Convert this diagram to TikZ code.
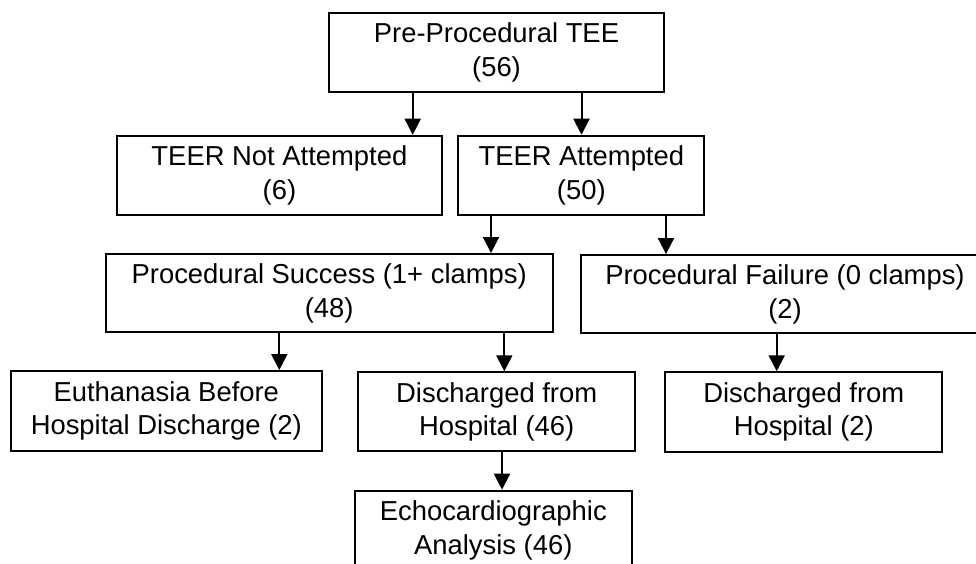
\documentclass[tikz,border=0pt]{standalone}
\usepackage{fontspec}
\setmainfont{Liberation Sans}
\usetikzlibrary{arrows.meta}
\begin{document}
\begin{tikzpicture}[x=1pt, y=-1pt,
    box/.style={draw, line width=2pt, align=center, inner sep=0pt,
        font=\fontsize{27.4pt}{33.7pt}\selectfont},
    arr/.style={line width=2pt, -{Triangle[width=16pt, length=16pt]}}]
    \useasboundingbox (0,0) rectangle (976,564);
    \clip (0,0) rectangle (976,564);
    \node[box, minimum width=335.6pt, minimum height=78.7pt] (pre) at (496.5,52.7) {Pre-Procedural TEE\\(56)};
    \node[box, minimum width=325.3pt, minimum height=79.3pt] (notatt) at (279.4,175.4) {TEER Not Attempted\\(6)};
    \node[box, minimum width=246pt, minimum height=79.3pt] (att) at (581.3,175.4) {TEER Attempted\\(50)};
    \node[box, minimum width=447pt, minimum height=78.3pt] (succ) at (329.2,293.2) {Procedural Success (1+ clamps)\\(48)};
    \node[box, minimum width=408pt, minimum height=78.3pt] (fail) at (785,294.2) {Procedural Failure (0 clamps)\\(2)};
    \node[box, minimum width=310.7pt, minimum height=79.7pt] (euth) at (166.3,410.9) {Euthanasia Before\\Hospital Discharge (2)};
    \node[box, minimum width=276.7pt, minimum height=79pt] (dis) at (496.7,411.8) {Discharged from\\Hospital (46)};
    \node[box, minimum width=277pt, minimum height=79.4pt] (disf) at (803.8,412) {Discharged from\\Hospital (2)};
    \node[box, minimum width=276.7pt, minimum height=79pt] (echo) at (493.3,530.2) {Echocardiographic\\Analysis (46)};

    % Arrows between the stages
    \draw[arr] ([xshift=-83.8pt]pre.south) -- ([xshift=-83.8pt]pre.south |- notatt.north);
    \draw[arr] ([xshift=85pt]pre.south) -- ([xshift=85pt]pre.south |- att.north);
    \draw[arr] ([xshift=-90.3pt]att.south) -- ([xshift=-90.3pt]att.south |- succ.north);
    \draw[arr] ([xshift=84.7pt]att.south) -- ([xshift=84.7pt]att.south |- fail.north);
    \draw[arr] ([xshift=-49.9pt]succ.south) -- ([xshift=-49.9pt]succ.south |- euth.north);
    \draw[arr] ([xshift=175.1pt]succ.south) -- ([xshift=175.1pt]succ.south |- dis.north);
    \draw[arr] ([xshift=-8.3pt]fail.south) -- ([xshift=-8.3pt]fail.south |- disf.north);
    \draw[arr] ([xshift=5.3pt]dis.south) -- ([xshift=5.3pt]dis.south |- echo.north);
\end{tikzpicture}
\end{document}
